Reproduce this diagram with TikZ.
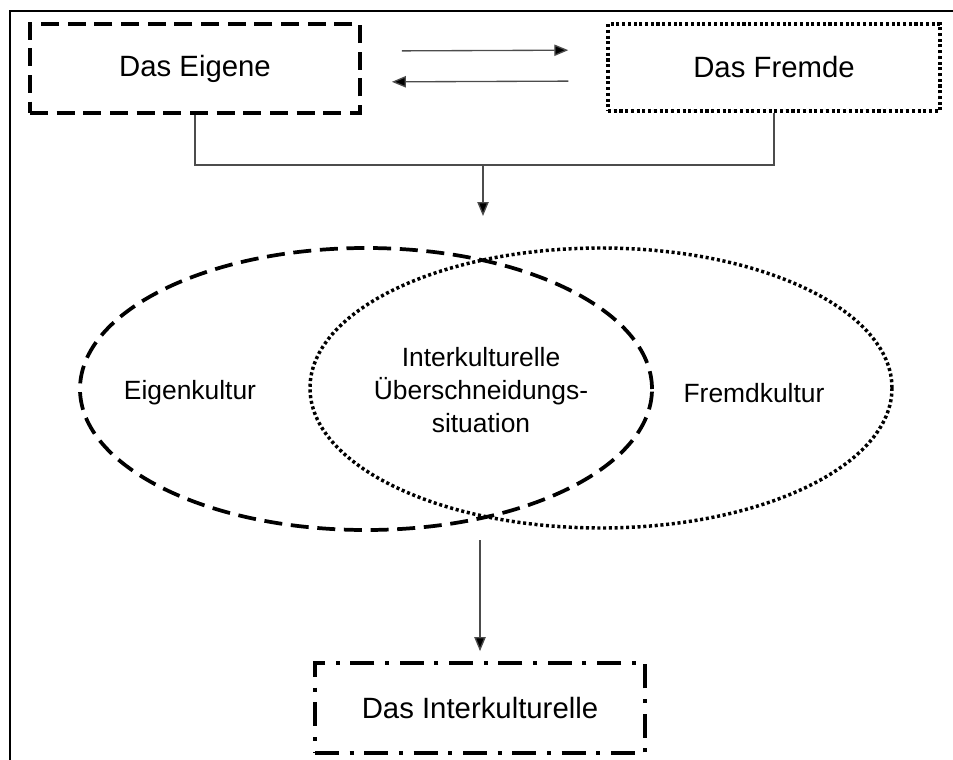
\documentclass[tikz,border=0pt]{standalone}
\usepackage{fontspec}
\setmainfont{Liberation Sans}
\usetikzlibrary{positioning,shapes.geometric,arrows.meta}

\begin{document}
\begin{tikzpicture}[x=0.75pt,y=-0.75pt,
    box/.style={rectangle,draw,inner sep=0pt,font=\fontsize{22}{26}\selectfont},
    oval/.style={ellipse,draw,inner sep=0pt},
    lbl/.style={align=center,font=\fontsize{19.8}{24.75}\selectfont},
    dashline/.style={line width=2.8pt,dash pattern=on 13.5pt off 6.5pt},
    dotline/.style={line width=2.6pt,dash pattern=on 2.3pt off 2pt},
    dashdotline/.style={line width=2.8pt,dash pattern=on 18pt off 8pt on 3pt off 8pt},
    conn/.style={draw=black!70,line width=1pt},
    arr/.style={conn,-{Triangle[length=10.5pt,width=8.5pt,fill=black]}}]
    \useasboundingbox (0,0) rectangle (953,760);
    \draw[line width=1.2pt] (10,760) -- (10,11) -- (953,11);

    \node [box,dashline,minimum width=247.5pt,minimum height=66.75pt] (eigene) at (195,68.5) {Das Eigene};
    \node [box,dotline,minimum width=249pt,minimum height=65.25pt] (fremde) at (774,67.5) {Das Fremde};
    \node [box,dashdotline,minimum width=247.5pt,minimum height=67.5pt] (interkult) at (480,708) {Das Interkulturelle};

    \node [oval,dashline,minimum width=429pt,minimum height=211.5pt] (eigenoval) at (366,389) {};
    \node [oval,dotline,minimum width=436.5pt,minimum height=210pt] (fremdoval) at (601,388) {};
    \node [lbl] (eigenkultur) at (190,393) {Eigenkultur};
    \node [lbl] (fremdkultur) at (754,393) {Fremdkultur};
    \node [lbl] (schnitt) at (481,390) {Interkulturelle\\Überschneidungs-\\situation};

    \coordinate (join) at (483,165);
    \coordinate (ovtop) at (483,216);
    \coordinate (ovbot) at (480,540);

    \draw [arr,shorten <=30pt,shorten >=28.5pt] ([yshift=13.1pt]eigene.east) -- ([yshift=13.1pt]fremde.west);
    \draw [arr,shorten <=28.5pt,shorten >=22.5pt] ([yshift=-10.1pt]fremde.west) -- ([yshift=-10.1pt]eigene.east);
    \draw [conn] (eigene.south) |- (join) -| (fremde.south);
    \draw [arr] (join) -- (ovtop);
    \draw [arr,shorten >=7.5pt] (ovbot) -- (interkult.north);
\end{tikzpicture}
\end{document}
